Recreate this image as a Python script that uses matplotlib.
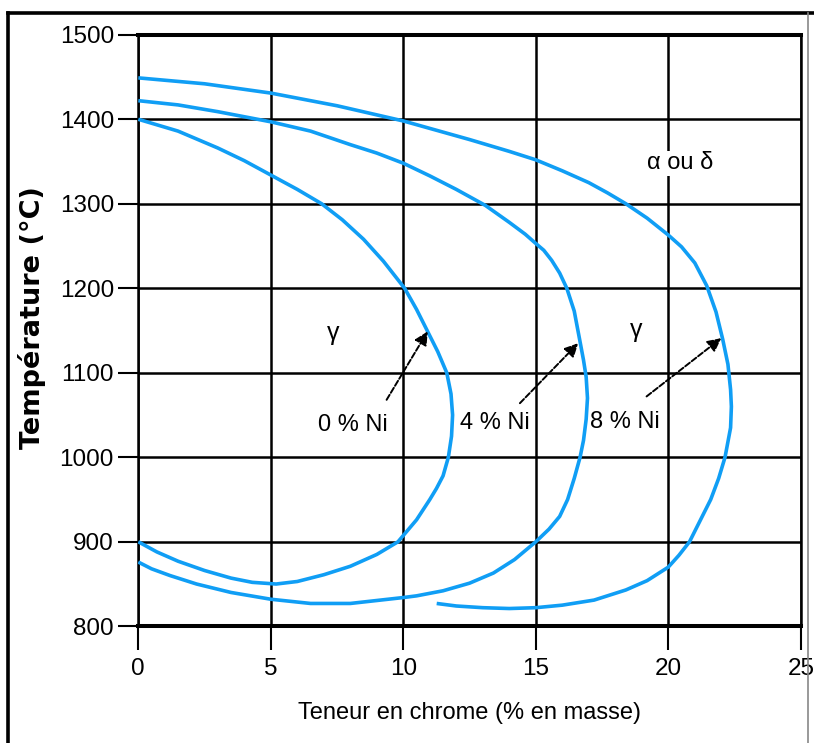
import matplotlib.pyplot as plt
from matplotlib.lines import Line2D

plt.rcParams['font.family'] = ['Liberation Sans', 'DejaVu Sans']

cr_0ni = [0, 1.5, 3, 4, 5, 6, 6.92, 7.7, 8.5, 9.25, 10.05, 10.5, 10.9, 11.3, 11.64, 11.8, 11.86,
          11.82, 11.7, 11.5, 11.25, 11.0, 10.5, 9.8, 9.0, 8.0, 7.0, 6.0, 5.2, 4.3, 3.5, 2.5,
          1.5, 0.7, 0]
t_0ni = [1400, 1386, 1366, 1351, 1334, 1317, 1300, 1281, 1258, 1232, 1200, 1175, 1150, 1125, 1100,
         1075, 1050, 1025, 1000, 978, 963, 950, 926, 900, 885, 871, 861, 853, 850, 852, 857, 866,
         877, 888, 900]

cr_4ni = [0, 1.5, 3, 5, 6.5, 8, 9, 10, 11, 12, 13.1, 14, 14.6, 15, 15.3, 15.6, 15.9, 16.17, 16.45,
          16.65, 16.8, 16.9, 16.95, 16.9, 16.8, 16.67, 16.45, 16.2, 15.9, 15.5, 15.0, 14.2,
          13.4, 12.5, 11.5, 10.5, 10, 8, 6.5, 5, 3.5, 2.2, 1.2, 0.5, 0]
t_4ni = [1422, 1417, 1409, 1397, 1386, 1370, 1360, 1348, 1333, 1317, 1298, 1278, 1264, 1253, 1245,
         1233, 1218, 1200, 1173, 1140, 1115, 1095, 1070, 1045, 1020, 1000, 975, 950, 930, 915, 900,
         879, 863, 851, 842, 836, 834, 827, 827, 832, 840, 850, 860, 868, 876]

cr_8ni = [0, 2.5, 5, 7.5, 10, 12.5, 14, 15, 16, 17, 17.7, 18.4, 19.2, 20, 20.5, 21, 21.45, 21.8,
          22.05, 22.25, 22.35, 22.38, 22.35, 22.14, 21.9, 21.6, 21.2, 20.8, 20.4, 20, 19.2,
          18.4, 17.2, 16, 15, 14, 13, 12, 11.26]
t_8ni = [1449, 1442, 1431, 1416, 1398, 1376, 1362, 1352, 1339, 1325, 1313, 1300, 1283, 1263, 1249,
         1230, 1203, 1172, 1140, 1110, 1080, 1060, 1035, 1000, 975, 950, 925, 900, 884, 870, 854,
         843, 831, 825, 822, 821, 822, 824, 827]

labels_ni = ['0 % Ni', '4 % Ni', '8 % Ni']
label_pos = [(8.1, 1038), (13.46, 1040), (18.37, 1042)]
arrow_tail = [(9.37, 1068), (14.4, 1064), (19.18, 1072)]
arrow_tip = [(10.92, 1149), (16.6, 1135), (22.0, 1141)]

xticks = [0, 5, 10, 15, 20, 25]
yticks = [800, 900, 1000, 1100, 1200, 1300, 1400, 1500]

fig = plt.figure(figsize=(8.14, 7.43), dpi=100)
ax = fig.add_axes([0.1699, 0.1571, 0.8139, 0.7961])

bleu = '#109ef5'
for xs, ts in [(cr_0ni, t_0ni), (cr_4ni, t_4ni), (cr_8ni, t_8ni)]:
    ax.plot(xs, ts, color=bleu, lw=2.6, solid_capstyle='butt', solid_joinstyle='round', zorder=3)

ax.set_xlim(0, 25)
ax.set_ylim(800, 1500)
ax.set_xticks(xticks)
ax.set_yticks(yticks)
ax.grid(True, color='black', lw=1.8)
ax.set_axisbelow(True)

for s in ['left', 'right']:
    ax.spines[s].set_linewidth(1.8)
for s in ['top', 'bottom']:
    ax.spines[s].set_linewidth(2.9)
ax.spines['bottom'].set_zorder(4)

ax.tick_params(axis='y', length=14.5, width=1.5, pad=3, labelsize=17.5)
ax.tick_params(axis='x', length=17, width=1.5, pad=6, labelsize=17.5)

ax.set_xlabel('Teneur en chrome (% en masse)', fontsize=17)
ax.xaxis.set_label_coords(0.5, -0.128)
fig.text(32 / 814, 1 - 318 / 743, 'Température (°C)', rotation=90, ha='center', va='center',
         fontsize=19.5, fontweight='bold', family='DejaVu Sans')

for lab, pos, a, b in zip(labels_ni, label_pos, arrow_tail, arrow_tip):
    ax.text(pos[0], pos[1], lab, fontsize=17, ha='center', va='center', zorder=5)
    ax.annotate('', xy=b, xytext=a,
                arrowprops=dict(arrowstyle='-|>', color='black', lw=1.4,
                                linestyle=(0, (3, 1.2)), mutation_scale=20,
                                shrinkA=0, shrinkB=0), zorder=5)

ax.text(7.36, 1147, 'γ', fontsize=18, ha='center', va='center')
ax.text(18.8, 1151, 'γ', fontsize=18, ha='center', va='center')
ax.text(20.44, 1348, 'α ou δ', fontsize=17, ha='center', va='center',
        bbox=dict(facecolor='white', edgecolor='none', pad=1), zorder=5)

# cadre extérieur
fig.add_artist(Line2D([8 / 814, 8 / 814], [0, 1 - 13 / 743], color='black', lw=2.6))
fig.add_artist(Line2D([8 / 814, 1], [1 - 13 / 743, 1 - 13 / 743], color='black', lw=2.6))
fig.add_artist(Line2D([808 / 814, 808 / 814], [0, 1 - 13 / 743], color='#888888', lw=1.2))

plt.savefig('out.png', dpi=100)
